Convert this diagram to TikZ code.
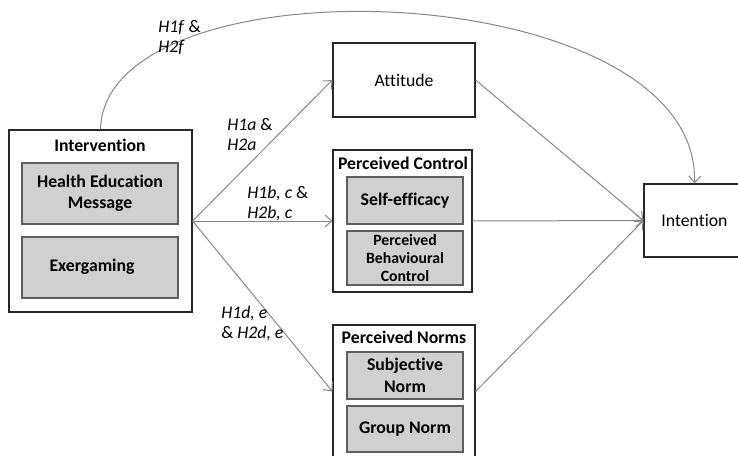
\documentclass[tikz,border=0pt]{standalone}
\usepackage{fontspec}
\setmainfont{Carlito}[Ligatures=NoCommon]
\usetikzlibrary{arrows.meta}
\definecolor{boxgray}{RGB}{208,208,208}
\definecolor{linegray}{RGB}{135,135,135}
\definecolor{edgedark}{RGB}{40,40,40}
\begin{document}
\begin{tikzpicture}[x=0.75pt,y=-0.75pt,
 outer/.style={draw=edgedark,line width=0.9pt,inner sep=0pt},
 innerbox/.style={draw=edgedark!75,fill=boxgray,line width=0.8pt,inner sep=0pt,align=center,font=\fontsize{13.3}{16}\selectfont\bfseries},
 plainbox/.style={draw=edgedark,line width=0.9pt,inner sep=0pt,font=\fontsize{13.3}{15}\selectfont},
 ttl/.style={inner sep=0pt,font=\fontsize{13.3}{15}\selectfont\bfseries},
 hyp/.style={anchor=west,align=left,inner sep=0pt,font=\fontsize{13.3}{15}\selectfont},
 conn/.style={draw=linegray,line width=0.75pt,-{Straight Barb[length=5pt,width=9pt]}}]
\useasboundingbox (0,0) rectangle (738,456);

% Intervention
\node[outer,minimum width=137.25pt,minimum height=136.5pt] (int) at (100.5,221) {};
\node[ttl] (intt) at (100,145) {Intervention};
\node[innerbox,minimum width=117pt,minimum height=45.75pt] (hem) at (100,193.5) {Health Education\\Message};
\node[innerbox,minimum width=117pt,minimum height=45.75pt] (exg) at (100,267.5) {};
\node[ttl] (exgt) at (92,267) {Exergaming};

% Attitude
\node[plainbox,minimum width=106.5pt,minimum height=55.5pt] (att) at (404,80) {Attitude};

% Perceived Control
\node[outer,minimum width=104.25pt,minimum height=106.5pt] (pc) at (402.5,221) {};
\node[ttl] (pct) at (403,163) {Perceived Control};
\node[innerbox,minimum width=87pt,minimum height=35.25pt] (se) at (405,200.5) {Self-efficacy};
\node[innerbox,minimum width=87pt,minimum height=40.5pt,font=\fontsize{11.8}{13.5}\selectfont\bfseries] (pbc) at (405,258) {Perceived\\Behavioural\\Control};

% Perceived Norms
\node[outer,minimum width=106.5pt,minimum height=99.75pt] (pn) at (404,391.5) {};
\node[ttl] (pnt) at (404,337) {Perceived Norms};
\node[innerbox,minimum width=87pt,minimum height=35.25pt] (sn) at (405,375.5) {Subjective\\Norm};
\node[innerbox,minimum width=87pt,minimum height=34.5pt] (gn) at (405,429) {Group Norm};

% Intention
\node[plainbox,minimum width=75.75pt,minimum height=54.75pt] (intn) at (694.5,220.5) {Intention};

% Connectors
\draw[conn] (int.east) -- (att.west);
\draw[conn] (int.east) -- (pc.west);
\draw[conn] (int.east) -- (pn.west);
\draw[conn] (att.east) -- (intn.west);
\draw[conn] (pc.east) -- (intn.west);
\draw[conn] (pn.east) -- (intn.west);
\draw[conn] (int.north) .. controls (105,-45) and (700,-25) .. (intn.north);

% Hypothesis labels
\node[hyp] (hf) at (158,37) {\textit{H1f} \&\\\textit{H2f}};
\node[hyp] (ha) at (227,135) {\textit{H1a} \&\\\textit{H2a}};
\node[hyp] (hb) at (247,203) {\textit{H1b, c} \&\\\textit{H2b, c}};
\node[hyp] (hd) at (221,323) {\textit{H1d, e}\\\& \textit{H2d, e}};
\end{tikzpicture}
\end{document}
